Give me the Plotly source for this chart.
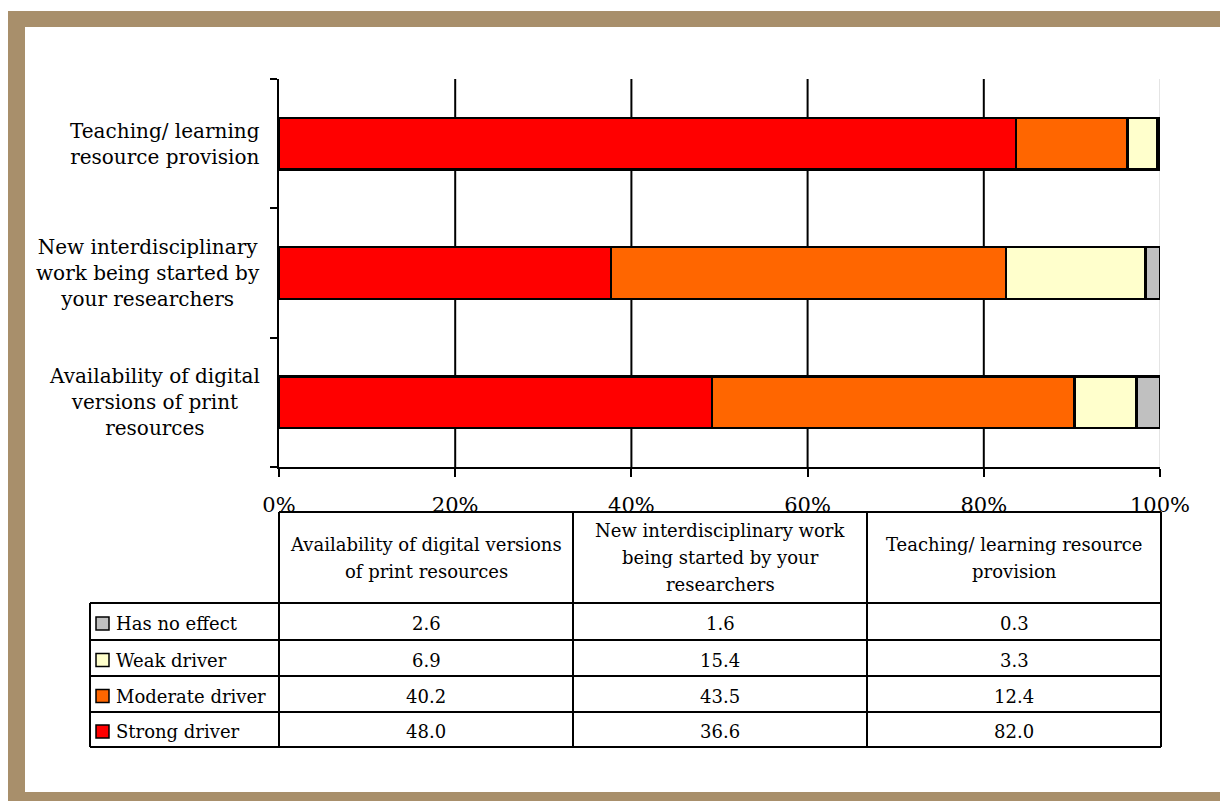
import plotly.graph_objects as go

# ---------------- data ----------------
categories = [
    "Availability of digital versions of print resources",
    "New interdisciplinary work being started by your researchers",
    "Teaching/ learning resource provision",
]
axis_labels = [
    "Availability of digital<br>versions of print<br>resources",
    "New interdisciplinary<br>work being started by<br>your researchers",
    "Teaching/ learning<br>resource provision",
]
table_headers = [
    ["Availability of digital versions", "of print resources"],
    ["New interdisciplinary work", "being started by your", "researchers"],
    ["Teaching/ learning resource", "provision"],
]
series_names = ["Strong driver", "Moderate driver", "Weak driver", "Has no effect"]
series_colors = ["#FF0000", "#FF6600", "#FFFFCC", "#C0C0C0"]
strong = [48.0, 36.6, 82.0]
moderate = [40.2, 43.5, 12.4]
weak = [6.9, 15.4, 3.3]
no_effect = [2.6, 1.6, 0.3]
series_values = [strong, moderate, weak, no_effect]
tick_values = [0, 20, 40, 60, 80, 100]
tick_labels = [f"{v}%" for v in tick_values]

# ---------------- geometry helpers (screen px -> paper) ----------------
W, H = 1220, 793
OFF = 8  # page body margin


def px(sx):
    return (sx - OFF) / W


def py(sy):
    return 1 - (sy - OFF) / H


FONT = "DejaVu Serif"
TAN = "#A88F6B"

fig = go.Figure()
for name, color, vals in zip(series_names, series_colors, series_values):
    fig.add_trace(go.Bar(
        name=name, y=categories, x=vals, orientation="h",
        marker=dict(color=color, line=dict(color="black", width=2.5)),
        width=0.4, showlegend=False, hoverinfo="skip",
    ))

shapes = []
annotations = []

# frame
shapes.append(dict(type="rect", xref="paper", yref="paper", x0=0, x1=1,
                   y0=py(11), y1=1, fillcolor="white", line_width=0, layer="below"))
shapes.append(dict(type="rect", xref="paper", yref="paper", x0=px(25), x1=px(1224),
                   y0=py(792), y1=py(27), fillcolor="white", line_width=0, layer="below"))

# vertical gridlines
for v in tick_values[1:-1]:
    shapes.append(dict(type="line", xref="x", yref="y domain", x0=v, x1=v, y0=0, y1=1,
                       line=dict(color="black", width=2), layer="below"))
shapes.append(dict(type="line", xref="x", yref="y domain", x0=tick_values[-1], x1=tick_values[-1],
                   y0=0, y1=1, line=dict(color="#C8C8C8", width=1), layer="below"))

# category labels
for cat, lab in zip(categories, axis_labels):
    annotations.append(dict(xref="paper", yref="y", x=px(262), y=cat, text=lab,
                            xanchor="right", yanchor="middle", align="center",
                            showarrow=False, font=dict(family=FONT, size=20, color="black")))

# ---------------- data table ----------------
col_x = [279, 573, 867, 1161]
leg_x = 90
row_y = [512, 603, 640, 676, 712, 747]
LW = 2
line = dict(color="black", width=LW)


def hline(y, x0, x1):
    shapes.append(dict(type="line", xref="paper", yref="paper", x0=px(x0), x1=px(x1),
                       y0=py(y), y1=py(y), line=line, layer="above"))


def vline(x, y0, y1):
    shapes.append(dict(type="line", xref="paper", yref="paper", x0=px(x), x1=px(x),
                       y0=py(y0), y1=py(y1), line=line, layer="above"))


hline(row_y[0], col_x[0], col_x[-1])
for y in row_y[1:]:
    hline(y, leg_x, col_x[-1])
for x in col_x:
    vline(x, row_y[0], row_y[-1])
vline(leg_x, row_y[1], row_y[-1])

# header texts
hdr_c = (row_y[0] + row_y[1]) / 2
for i, lines in enumerate(table_headers):
    cx = (col_x[i] + col_x[i + 1]) / 2
    n = len(lines)
    for j, t in enumerate(lines):
        cy = hdr_c + (j - (n - 1) / 2) * 27
        annotations.append(dict(xref="paper", yref="paper", x=px(cx), y=py(cy), text=t,
                                xanchor="center", yanchor="middle", showarrow=False,
                                font=dict(family=FONT, size=18, color="black")))

# rows (reverse stacking order, top to bottom)
order = list(range(len(series_names)))[::-1]
for r, si in enumerate(order):
    cy = (row_y[r + 1] + row_y[r + 2]) / 2 + 2
    shapes.append(dict(type="rect", xref="paper", yref="paper",
                       x0=px(96), x1=px(109), y0=py(cy + 6.5), y1=py(cy - 6.5),
                       fillcolor=series_colors[si], line=dict(color="black", width=1.5),
                       layer="above"))
    annotations.append(dict(xref="paper", yref="paper", x=px(114), y=py(cy), text=series_names[si],
                            xanchor="left", yanchor="middle", showarrow=False,
                            font=dict(family=FONT, size=18, color="black")))
    for c, v in enumerate(series_values[si]):
        cx = (col_x[c] + col_x[c + 1]) / 2
        annotations.append(dict(xref="paper", yref="paper", x=px(cx), y=py(cy), text=f"{v:.1f}",
                                xanchor="center", yanchor="middle", showarrow=False,
                                font=dict(family=FONT, size=18, color="black")))

fig.update_layout(
    template="none",
    width=W, height=H,
    margin=dict(l=0, r=0, t=0, b=0, pad=0),
    paper_bgcolor=TAN, plot_bgcolor="rgba(0,0,0,0)",
    barmode="stack", barnorm="percent",
    font=dict(family=FONT, color="black"),
    shapes=shapes, annotations=annotations,
    xaxis=dict(domain=[px(279), px(1160)], range=[0, 100], tickmode="array",
               tickvals=tick_values, ticktext=tick_labels, automargin=False,
               showgrid=False, zeroline=False,
               showline=True, linecolor="black", linewidth=2,
               ticks="outside", ticklen=8, tickwidth=2, tickcolor="black",
               ticklabelstandoff=10,
               tickfont=dict(family=FONT, size=21, color="black"), anchor="y"),
    yaxis=dict(domain=[py(467), py(79)], type="category", categoryorder="array",
               categoryarray=categories, range=[-0.5, 2.5], automargin=False,
               showticklabels=False, showgrid=False, zeroline=False,
               showline=True, linecolor="black", linewidth=2,
               ticks="outside", tickson="boundaries", ticklen=7, tickwidth=2,
               tickcolor="black", anchor="x"),
)

fig.write_html("out.html")
